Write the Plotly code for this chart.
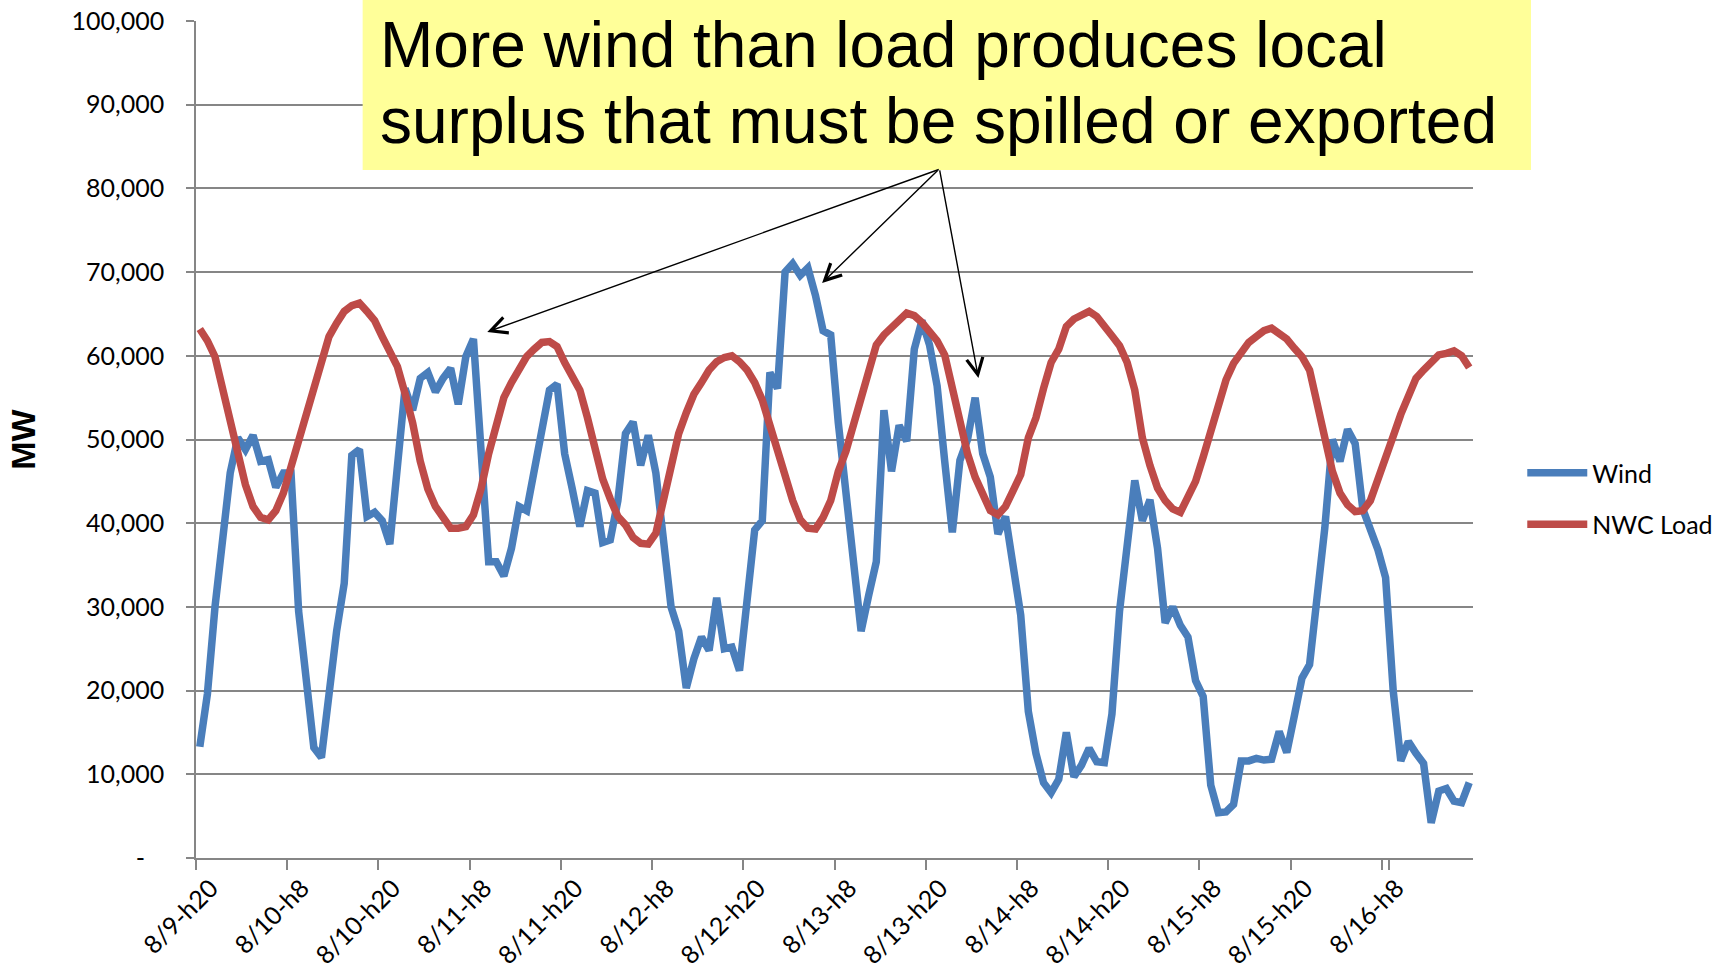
import plotly.graph_objects as go

# Hourly series, 8/9 hour 20 through 8/16 hour 19 (MW)
wind_mw = [
    13300, 19600, 30000, 38400, 46000, 50200, 48800, 50500, 47400, 47600, 44300, 46000,
    46000, 29500, 21500, 13200, 12000, 20500, 27100, 32800, 48100, 48800, 40800, 41300,
    40300, 37500, 46000, 56100, 53500, 57300, 58000, 55700, 57300, 58500, 54200, 59900,
    62000, 48000, 35400, 35400, 33700, 37000, 42000, 41500, 46500, 51700, 55900, 56600,
    48300, 44100, 39600, 43900, 43600, 37700, 38000, 42700, 50700, 52100, 46900, 50500,
    46000, 38000, 30000, 27100, 20300, 23800, 26400, 24800, 31100, 25000, 25200, 22400,
    30400, 39200, 40300, 58000, 56100, 70000, 71000, 69600, 70500, 67200, 63000, 62500,
    52000, 44000, 35500, 27100, 31400, 35400, 53500, 46200, 51700, 49800, 60800, 64200,
    61300, 56400, 47400, 38900, 47500, 50000, 55000, 48300, 45500, 38700, 40800, 35100,
    29000, 17500, 12500, 9000, 7800, 9400, 15000, 9700, 11100, 13100, 11500, 11400,
    17200, 29500, 38400, 45100, 40300, 42800, 37000, 28100, 30000, 27800, 26400, 21200,
    19300, 8700, 5400, 5500, 6400, 11600, 11600, 11900, 11700, 11800, 15100, 12600,
    17000, 21500, 23100, 30900, 39400, 50000, 47400, 51200, 49500, 41700, 39400, 36800,
    33500, 20000, 11600, 13900, 12500, 11300, 4200, 8000, 8300, 6800, 6600, 9000,
]

nwc_load_mw = [
    63200, 61800, 59900, 55900, 51700, 47900, 44600, 42000, 40700, 40400, 41500, 43600,
    46700, 50200, 53500, 56800, 59700, 62300, 63900, 65300, 66000, 66300, 65300, 64200,
    62300, 60600, 58700, 55500, 52000, 47400, 44100, 42000, 40600, 39400, 39400, 39600,
    41000, 44100, 48300, 52100, 55000, 56800, 58500, 59900, 60800, 61600, 61700, 61100,
    59200, 57500, 55900, 52600, 49300, 45300, 42900, 40800, 39800, 38300, 37600, 37500,
    38800, 42500, 46700, 50700, 53200, 55400, 56800, 58300, 59300, 59800, 60000, 59300,
    58300, 56800, 54700, 51700, 48300, 45500, 42700, 40400, 39400, 39300, 40700, 42700,
    46200, 48600, 51700, 55000, 58700, 61300, 62500, 63400, 64400, 65100, 64800, 64000,
    62900, 61800, 60100, 56100, 52100, 48300, 45500, 43200, 41500, 41000, 42000, 43900,
    45800, 50200, 52600, 56100, 59200, 60800, 63500, 64400, 64900, 65300, 64700, 63700,
    62400, 61200, 59200, 55900, 50200, 46900, 44200, 42700, 41700, 41300, 43100, 45000,
    47900, 50900, 53900, 57100, 59100, 60400, 61600, 62300, 63000, 63300, 62700, 62000,
    60900, 59900, 58300, 54200, 50200, 46200, 43600, 42200, 41400, 41500, 42700, 45500,
    47900, 50400, 53000, 55000, 57300, 58300, 59300, 60100, 60300, 60600, 60000, 58600,
]

# Category labels "day-hour" with hours numbered 1..24
hour_labels = [f"8/{9 + (19 + k) // 24}-h{(19 + k) % 24 + 1}" for k in range(len(wind_mw))]

x_tick_labels = [
    "8/9-h20", "8/10-h8", "8/10-h20", "8/11-h8", "8/11-h20", "8/12-h8", "8/12-h20",
    "8/13-h8", "8/13-h20", "8/14-h8", "8/14-h20", "8/15-h8", "8/15-h20", "8/16-h8",
]

y_tick_values = [0, 10000, 20000, 30000, 40000, 50000, 60000, 70000, 80000, 90000, 100000]
y_tick_labels = ["-\u00a0\u00a0\u00a0"] + [f"{v:,}" for v in y_tick_values[1:]]

callout_lines = [
    "More wind than load produces local",
    "surplus that must be spilled or exported",
]

WIND_BLUE = "#4A7EBB"
LOAD_RED = "#BE4B48"
GRID_GRAY = "#868686"
TICK_FONT = dict(family="Lato, Carlito, Calibri, sans-serif", size=25, color="#000000")

fig = go.Figure()
fig.add_trace(go.Scatter(
    x=hour_labels, y=wind_mw, name="Wind", mode="lines",
    line=dict(color=WIND_BLUE, width=7.5), legendgroup="wind",
))
fig.add_trace(go.Scatter(
    x=hour_labels, y=nwc_load_mw, name="NWC Load", mode="lines",
    line=dict(color=LOAD_RED, width=7.5), legendgroup="load",
))

fig.update_layout(
    width=1723, height=972,
    margin=dict(l=196, r=250, t=21, b=114, autoexpand=False),
    paper_bgcolor="white", plot_bgcolor="white",
    showlegend=True,
    legend=dict(
        xref="container", yref="container",
        x=0.8835, xanchor="left", y=0.5370, yanchor="top",
        font=TICK_FONT, tracegroupgap=16, itemwidth=60,
        bgcolor="rgba(0,0,0,0)",
    ),
    xaxis=dict(
        type="category", categoryorder="array", categoryarray=hour_labels,
        range=[-0.5, len(hour_labels) - 0.5],
        tickmode="array", tickvals=x_tick_labels, ticktext=x_tick_labels,
        tickson="boundaries", tickangle=-45,
        ticklabelshift=11, ticklabelstandoff=4,
        ticks="outside", ticklen=10, tickwidth=1.5, tickcolor=GRID_GRAY,
        showline=True, linecolor=GRID_GRAY, linewidth=1.5,
        showgrid=False, zeroline=False, tickfont=TICK_FONT,
        automargin=False,
    ),
    yaxis=dict(
        range=[0, 100000],
        tickmode="array", tickvals=y_tick_values, ticktext=y_tick_labels,
        ticks="outside", ticklen=8, tickwidth=1.5, tickcolor=GRID_GRAY,
        ticklabelstandoff=17,
        showline=True, linecolor=GRID_GRAY, linewidth=1.5,
        showgrid=True, gridcolor=GRID_GRAY, gridwidth=1.5,
        zeroline=False, tickfont=TICK_FONT, automargin=False,
        title=dict(
            text="MW", standoff=26,
            font=dict(family="Liberation Sans, Arial, sans-serif", size=34,
                      color="#000000", weight="bold"),
        ),
    ),
)

# Yellow call-out box with its two lines of text
fig.add_shape(
    type="rect", xref="paper", yref="paper",
    x0=0.1305, x1=1.0454, y0=0.822, y1=1.0251,
    fillcolor="#FFFF99", line=dict(width=0), layer="above",
)
for line_text, y_mid in zip(callout_lines, [0.9719, 0.8808]):
    fig.add_annotation(
        text=line_text, xref="paper", yref="paper", x=0.1429, y=y_mid,
        xanchor="left", yanchor="middle", showarrow=False,
        font=dict(family="Liberation Sans, Arial, sans-serif", size=64, color="#000000"),
    )

# Arrows from the call-out to the surplus periods (tip in paper coords, tail offset in px)
arrow_specs = [
    (0.2281, 0.6285, 453, -163),
    (0.4903, 0.6870, 117, -114),
    (0.6127, 0.5735, -39, -209),
]
for tip_x, tip_y, dx, dy in arrow_specs:
    fig.add_annotation(
        text="", xref="paper", yref="paper", x=tip_x, y=tip_y,
        axref="pixel", ayref="pixel", ax=dx, ay=dy,
        showarrow=True, arrowhead=5, arrowsize=2.3, arrowwidth=1.4,
        arrowcolor="#000000",
    )

fig.write_html("out.html")
